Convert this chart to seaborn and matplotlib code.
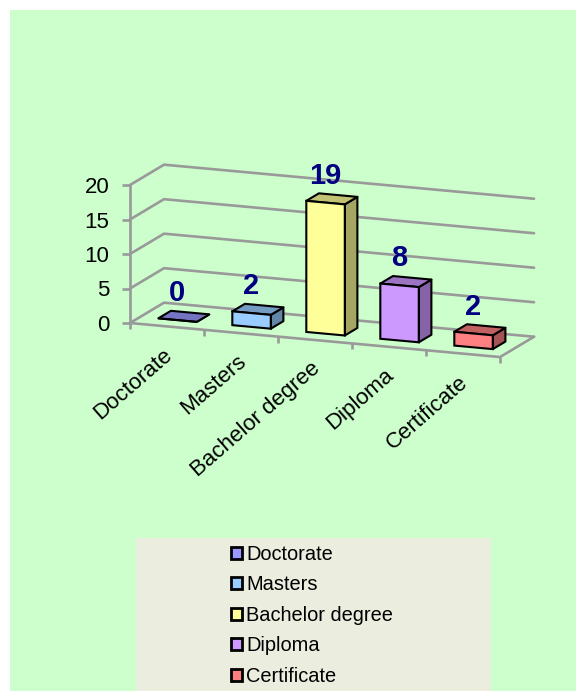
#!/usr/bin/env python3
import numpy as np
import seaborn as sns
import matplotlib.pyplot as plt
from matplotlib.patches import Polygon, Rectangle
from matplotlib.transforms import Affine2D, ScaledTranslation

degrees = ["Doctorate", "Masters", "Bachelor degree", "Diploma", "Certificate"]
counts = [0, 2, 19, 8, 2]
bar_colors = ["#9999FF", "#99CCFF", "#FFFF99", "#CC99FF", "#FF8080"]
y_ticks = [0, 5, 10, 15, 20]

GRID = "#999999"
NAVY = "#000080"
# oblique projection, in data units
DEPTH_X = 0.46
DEPTH_Y = 3.4
SLOPE = -0.987
BAR_WIDTH = 0.52
BAR_INSET = 0.31
BAR_DEPTH = 0.37

W, H = 576, 691

sns.set_theme(style="white")
plt.rcParams["font.family"] = ["Liberation Sans", "DejaVu Sans"]


def shade(color, factor):
    return tuple(c * factor for c in plt.matplotlib.colors.to_rgb(color))


def main():
    fig = plt.figure(figsize=(W / 100, H / 100), dpi=100, facecolor="white")
    fig.add_artist(Rectangle((10 / W, 0), 1, (H - 10) / H, transform=fig.transFigure,
                             facecolor="#CCFFCC", edgecolor="none", zorder=-2))
    fig.add_artist(Rectangle((136 / W, 0), 355 / W, 153 / H, transform=fig.transFigure,
                             facecolor="#EBEEDF", edgecolor="none", zorder=-1))

    ax = fig.add_axes([130 / W, (H - 323) / H, 370 / W, 138 / H])
    ax.patch.set_visible(False)

    sns.barplot(x=degrees, y=counts, hue=degrees, palette=bar_colors, width=BAR_WIDTH,
                saturation=1, dodge=False, edgecolor="black", linewidth=1.5, legend=True, ax=ax)
    ax.set_xlim(-0.5, 4.5)
    ax.set_ylim(0, 20)

    skew = Affine2D(np.array([[1, 0, 0], [SLOPE, 1, SLOPE * 0.5], [0, 0, 1]]))
    skewed = skew + ax.transData

    # walls and floor
    x0, x1 = -0.5, 4.5
    line = dict(color=GRID, lw=1.9, transform=skewed, clip_on=False, zorder=1)
    for v in y_ticks:
        ax.plot([x0, x0 + DEPTH_X, x1 + DEPTH_X], [v, v + DEPTH_Y, v + DEPTH_Y], **line)
    ax.plot([x0, x1, x1 + DEPTH_X], [0, 0, DEPTH_Y], **line)

    # bars: front faces come from seaborn, side and top are built on them
    dx, dy = DEPTH_X * BAR_INSET, DEPTH_Y * BAR_INSET
    bx, by = DEPTH_X * BAR_DEPTH, DEPTH_Y * BAR_DEPTH
    bars = [p for p in ax.patches if isinstance(p, Rectangle)]
    bars = sorted([b for b in bars if b.get_width() > 0], key=lambda b: b.get_x())
    for bar, color, v in zip(bars, bar_colors, counts):
        bar.set_x(bar.get_x() + dx)
        bar.set_y(bar.get_y() + dy)
        bar.set_transform(skewed)
        bar.set_clip_on(False)
        bar.set_zorder(5)
        left, bottom = bar.get_x(), bar.get_y()
        right, top = left + bar.get_width(), bottom + bar.get_height()
        side = [(right, bottom), (right + bx, bottom + by), (right + bx, top + by), (right, top)]
        roof = [(left, top), (right, top), (right + bx, top + by), (left + bx, top + by)]
        style = dict(transform=skewed, clip_on=False, edgecolor="black", linewidth=1.5,
                     joinstyle="round", zorder=4)
        ax.add_patch(Polygon(side, facecolor=shade(color, 0.65), **style))
        ax.add_patch(Polygon(roof, facecolor=shade(color, 0.76), **style))

    for i, v in enumerate(counts):
        ax.text(i + 0.135, v + 5.4, str(v), transform=skewed, ha="center",
                va="center_baseline", color=NAVY, fontsize=21, fontweight="bold",
                clip_on=False, zorder=6)

    # axes
    sns.despine(ax=ax, top=True, right=True, bottom=True)
    ax.spines["left"].set_color(GRID)
    ax.spines["left"].set_linewidth(1.9)
    ax.set_yticks(y_ticks)
    ax.tick_params(axis="y", left=True, length=5.8, width=1.9, color=GRID, pad=9,
                   labelsize=16, labelcolor="black")
    ax.set_xticks(np.arange(-0.5, 5), minor=True)
    ax.tick_params(axis="x", which="major", length=0, labelsize=16, labelcolor="black")
    ax.tick_params(axis="x", which="minor", bottom=True, length=4, width=1.9, color=GRID)
    for tick in ax.xaxis.get_minor_ticks():
        tick.tick1line.set_transform(skewed)
        tick.tick1line.set_clip_on(False)
    label_trans = skewed + ScaledTranslation(0.06, -0.30, fig.dpi_scale_trans)
    for tick in ax.xaxis.get_major_ticks():
        tick.label1.set_transform(label_trans)
        tick.label1.set(rotation=41, ha="right", va="baseline", rotation_mode="anchor")

    # legend
    sns.move_legend(ax, loc="upper left", bbox_to_anchor=(215 / W, 162 / H),
                    bbox_transform=fig.transFigure, frameon=False, title=None, fontsize=14.4,
                    labelspacing=0.57, handlelength=0.55, handleheight=0.55,
                    handletextpad=0.2, borderpad=0.3, labelcolor="black")
    for handle, color in zip(ax.get_legend().get_patches(), bar_colors):
        handle.set(facecolor=color, edgecolor="black", linewidth=2)

    fig.savefig("out.png", dpi=100, facecolor="white")


if __name__ == "__main__":
    main()
